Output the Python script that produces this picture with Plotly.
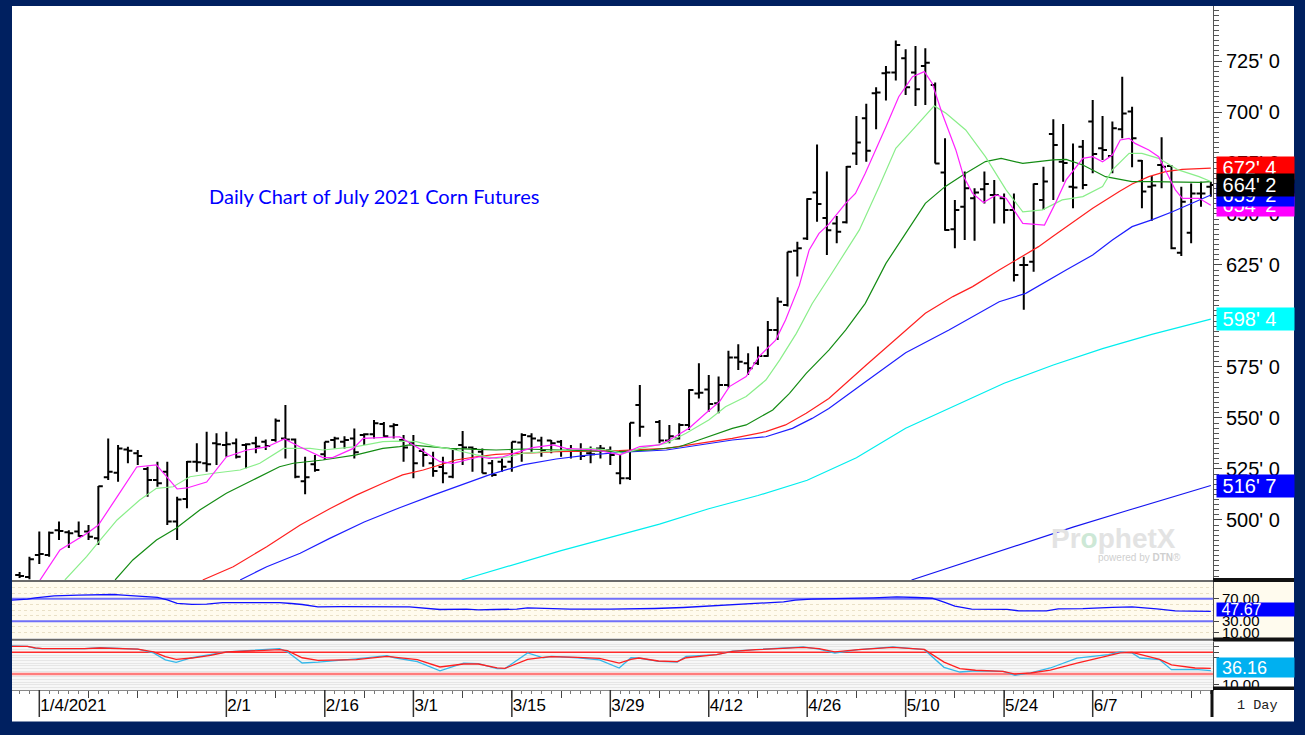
import pandas as pd
import plotly.graph_objects as go

# ---------------- calendar (trading days, Good Friday slot kept empty) ----------------
HOLIDAYS = ["2021-01-01", "2021-01-18", "2021-02-15", "2021-05-31"]
dates = [d for d in pd.bdate_range("2020-12-30", "2021-06-23") if d.strftime("%Y-%m-%d") not in HOLIDAYS]
DAY0 = dates.index(pd.Timestamp("2021-01-04"))
bar_pos = [i - DAY0 for i in range(len(dates))]

# ---------------- OHLC (cents/bushel), one per trading day, None = no bar ----------------
opens = [473.0, 472.0, 482.8, 482.8, 495.0, 494.0, 494.3, 494.3, 491.0, 520.9,
         523.2, 534.6, 532.7, 525.0, 519.6, 523.7, 499.2, 510.3, 528.6, 527.8,
         537.6, 536.8, 537.6, 536.8, 537.6, 538.4, 539.2, 540.0, 539.5, 519.0,
         527.3, 532.2, 539.2, 538.4, 540.0, 541.7, 542.0, 547.0, 546.0, 539.2,
         537.6, 533.8, 527.8, 526.0, 521.2, 536.8, 535.5, 533.5, 527.8, 528.6,
         528.6, 538.0, 541.0, 539.0, 539.0, 538.4, 534.8, 534.0, 532.7, 535.0,
         534.3, 522.9, 520.4, 556.4, None, 548.0, 539.0, 540.0, 546.6, 562.0,
         564.0, 557.2, 566.2, 579.7, 576.8, 576.8, 580.4, 593.1, 605.4, 632.0,
         638.0, 660.5, 648.0, 645.4, 646.0, 679.7, 696.9, 709.2, 719.0, 719.3,
         726.3, 719.3, 722.6, 713.2, 670.3, 642.5, 653.6, 657.7, 662.1, 659.3,
         657.7, 652.0, 625.0, 626.6, 656.9, 689.2, 675.6, 663.4, 683.0, 695.3,
         682.2, 678.4, 691.5, 700.2, 676.1, 663.4, 674.0, 673.5, 631.0, 640.8,
         660.1, 663.4]
highs = [474.5, 482.0, 494.3, 494.3, 499.2, 495.0, 499.2, 497.5, 516.7, 540.0,
         536.8, 535.9, 534.3, 526.1, 528.6, 528.6, 511.4, 528.9, 537.6, 543.3,
         542.5, 543.3, 540.0, 537.6, 540.8, 539.5, 549.8, 556.4, 540.0, 531.0,
         531.9, 538.4, 540.8, 541.0, 544.9, 542.5, 549.0, 548.0, 547.4, 541.7,
         541.7, 535.1, 533.5, 531.0, 535.1, 543.6, 536.0, 535.1, 529.4, 530.2,
         538.4, 542.5, 542.5, 540.8, 539.2, 539.2, 536.8, 537.6, 536.0, 536.8,
         536.0, 531.9, 547.7, 566.2, None, 549.0, 546.6, 547.4, 564.1, 576.8,
         571.1, 570.3, 583.0, 586.1, 581.7, 585.0, 597.6, 609.2, 631.5, 636.4,
         657.7, 684.1, 670.8, 649.0, 673.5, 698.0, 704.0, 712.1, 722.6, 735.0,
         730.7, 732.4, 731.2, 714.4, 687.1, 656.9, 670.8, 662.6, 670.8, 666.7,
         660.1, 660.1, 629.1, 665.0, 673.2, 696.4, 694.1, 684.6, 686.3, 705.9,
         698.0, 695.3, 717.3, 702.6, 676.5, 668.6, 687.6, 674.0, 663.4, 665.0,
         665.8, 665.8]
lows = [471.5, 471.0, 478.4, 482.0, 490.2, 486.3, 491.8, 490.2, 487.7, 519.6,
        518.8, 527.8, 527.0, 511.4, 516.3, 497.5, 490.2, 505.7, 523.7, 523.7,
        527.0, 531.0, 530.2, 525.3, 532.7, 534.3, 538.4, 530.2, 520.4, 512.6,
        523.7, 529.4, 535.1, 535.0, 530.2, 536.8, 540.0, 540.8, 540.0, 528.6,
        520.4, 526.1, 521.2, 518.0, 520.4, 527.0, 523.7, 522.9, 521.2, 523.7,
        523.7, 528.6, 533.5, 531.0, 532.7, 531.0, 530.2, 529.4, 527.8, 530.2,
        527.0, 517.5, 519.6, 540.8, None, 537.6, 537.6, 539.5, 544.1, 559.6,
        553.1, 552.3, 565.0, 573.5, 571.1, 576.0, 580.0, 588.2, 604.6, 619.3,
        637.3, 646.2, 629.9, 635.6, 645.4, 674.0, 675.6, 691.5, 705.6, 715.4,
        708.3, 703.0, 703.4, 674.8, 641.8, 633.2, 637.3, 636.9, 655.2, 645.4,
        645.4, 616.9, 603.0, 621.7, 652.0, 656.9, 665.8, 652.8, 662.1, 670.0,
        676.5, 670.0, 687.1, 672.9, 652.8, 646.7, 662.6, 632.7, 629.4, 635.6,
        653.6, 658.5]
closes = [472.5, 480.7, 483.3, 493.7, 494.6, 493.5, 492.2, 491.8, 516.5, 523.7,
          535.1, 534.0, 531.4, 519.6, 518.0, 499.2, 510.1, 528.6, 528.3, 527.3,
          537.1, 537.1, 531.0, 537.1, 536.0, 536.3, 548.7, 539.5, 521.2, 521.0,
          524.5, 538.4, 540.0, 539.2, 533.2, 542.0, 547.4, 541.0, 546.6, 535.5,
          527.8, 531.9, 524.0, 522.9, 534.8, 535.5, 534.8, 522.9, 522.0, 526.1,
          538.4, 541.7, 540.0, 534.3, 537.6, 533.8, 534.0, 531.4, 532.2, 535.0,
          531.9, 520.4, 547.7, 545.7, None, 539.0, 541.0, 546.6, 563.7, 562.4,
          556.9, 566.2, 579.7, 577.6, 574.4, 580.4, 593.1, 607.0, 631.5, 633.2,
          657.4, 654.9, 642.0, 641.3, 673.2, 685.0, 681.0, 709.5, 719.3, 732.8,
          712.1, 711.1, 724.2, 674.8, 642.2, 652.0, 662.6, 660.5, 664.7, 659.3,
          652.0, 620.1, 625.0, 664.7, 665.9, 683.8, 675.0, 663.0, 664.2, 679.4,
          681.4, 692.0, 699.3, 687.1, 661.0, 664.0, 673.2, 633.2, 656.0, 660.1,
          660.1, 664.25]

# ---------------- moving averages (day position, value) ----------------
mag_pos = [0.0, 2.1, 4.9, 6, 7.9, 9.9, 11.9, 13, 14, 15, 17, 19, 21.1, 23.1, 24.9, 26.5, 28.8, 29.8,
           31.9, 32.9, 35.6, 36.6, 38, 39.3, 40.7, 42, 43.4, 44.7, 45.7, 47.1, 48.8, 50.1, 52.2, 53.5,
           56.6, 59, 61, 63, 64, 66, 67.7, 69.1, 70.1, 71.8, 73.1, 74.8, 75.8, 77.2, 78.2, 79.2, 80.2,
           81.9, 82.9, 83.9, 86, 87.3, 88.7, 89.9, 90.7, 91.7, 93.1, 93.9, 94.8, 95.9, 97.2, 98.2,
           99.9, 102.1, 103.2, 104.3, 106, 107, 108, 109, 109.8, 110.7, 111.3, 112.7, 113.7, 114.4,
           115.4, 116.1, 117.8, 119]
mag_val = [470.0, 485.3, 493.6, 497.5, 511.3, 526.0, 527.0, 520.6, 515.2, 515.7, 518.6, 530.9, 534.3,
           535.8, 539.7, 535.8, 530.6, 530.6, 535.1, 540.0, 540.8, 540.8, 536.8, 532.7, 528.6, 527.8,
           529.4, 531.0, 530.2, 531.0, 533.5, 535.5, 536.8, 535.1, 534.3, 531.9, 536.0, 536.8, 539.2,
           545.0, 552.3, 558.0, 565.4, 570.3, 580.1, 588.2, 598.0, 615.0, 632.4, 640.5, 645.0, 655.2,
           660.1, 670.0, 692.8, 707.5, 717.3, 719.8, 714.0, 699.4, 681.4, 668.3, 660.1, 655.6, 659.3,
           657.7, 645.4, 644.6, 655.2, 666.7, 677.3, 678.1, 675.6, 678.9, 686.3, 687.1, 684.6, 681.4,
           678.1, 671.6, 661.8, 657.7, 657.7, 654.25]

lgreen_pos = [2.6, 4.8, 6.2, 7.9, 10.2, 11.9, 13.6, 15.3, 17.7, 20.4, 22.4, 24.8, 26.5, 27.5, 28.8,
              32.2, 34.9, 36.6, 38.3, 40.3, 42.3, 44.4, 46.4, 47.8, 49.1, 51.2, 53.5, 55.9, 57.9,
              59.3, 61, 63.7, 65.7, 68, 69.7, 71.8, 73.8, 75.2, 76.9, 78.5, 80.6, 83.3, 85.3, 87,
              88.7, 90, 90.9, 92.1, 94.1, 96.1, 98.2, 99.9, 101.9, 103.9, 106, 108, 109, 110.7, 112,
              113.7, 115.7, 117.8, 119]
lgreen_val = [470.6, 482.0, 490.2, 500.0, 509.8, 515.5, 516.3, 521.2, 522.9, 524.5, 527.8, 535.1,
              535.1, 535.1, 534.3, 536.0, 538.4, 538.7, 538.4, 536.0, 534.3, 531.9, 530.2, 531.0,
              532.7, 533.5, 534.3, 535.1, 534.3, 532.5, 535.1, 537.6, 542.5, 549.0, 555.5, 560.5,
              568.6, 578.4, 591.5, 606.0, 621.7, 642.2, 663.4, 682.2, 691.2, 698.5, 703.0, 699.4,
              691.2, 678.1, 661.8, 651.1, 652.0, 656.9, 658.5, 663.4, 671.6, 679.7, 679.7, 677.3,
              671.6, 668.3, 665.9]

dgreen_pos = [7.7, 9.5, 11.9, 13.9, 16.3, 19, 21.7, 24.4, 25.8, 28.8, 32.2, 34.9, 36.6, 37.6, 39.6,
              41.7, 44.4, 46.4, 49.1, 52.5, 55.9, 58.9, 62, 65, 67, 70.4, 71.8, 74.5, 76.2, 77.9,
              80.2, 81.9, 83.9, 86, 88, 90, 92, 94.1, 96.1, 97.7, 99.9, 103, 104.3, 106, 108.3, 111,
              113, 117.8, 119]
dgreen_val = [470.6, 480.4, 490.2, 496.0, 504.9, 513.1, 519.6, 526.1, 527.8, 529.4, 531.9, 535.1,
              536.0, 536.8, 536.0, 535.1, 534.6, 534.3, 534.8, 534.3, 533.8, 533.5, 534.3, 535.9,
              539.2, 544.9, 546.6, 553.9, 562.1, 571.9, 583.3, 593.1, 606.2, 625.8, 640.5, 655.2,
              663.4, 670.0, 675.7, 677.3, 674.8, 676.5, 676.8, 674.0, 668.3, 665.9, 665.9, 665.5, 665.9]

red_pos = [16.6, 19.7, 23.1, 26.5, 29.5, 32.2, 34.9, 36.9, 39, 40.7, 42.3, 44.4, 46.4, 49.1, 52.5,
           55.9, 58.9, 63.7, 67, 70.4, 73.8, 75.8, 77.9, 80.2, 84, 88.3, 90, 92.8, 94.8, 97.5, 99.5,
           101.5, 102.9, 104.3, 107, 109.7, 111, 112.7, 114.4, 116.1, 119]
red_val = [470.6, 477.1, 486.9, 497.5, 505.5, 512.2, 518.0, 522.1, 524.5, 527.0, 529.4, 531.0, 532.2,
           532.7, 533.5, 533.8, 534.0, 535.1, 537.6, 540.0, 543.3, 546.6, 552.3, 559.6, 576.0, 594.0,
           601.3, 609.5, 614.4, 622.5, 628.3, 634.0, 638.9, 643.8, 652.8, 661.0, 664.7, 668.3, 670.8,
           671.9, 672.5]

blue_pos = [20.4, 23.1, 26.5, 29.5, 33, 36.6, 40, 42.3, 45.7, 49.1, 52.5, 55.9, 59.3, 63.7, 67, 70.4,
            73.8, 76.5, 78.5, 80.2, 84, 88, 92.4, 94.8, 97.5, 100.2, 102.2, 104.3, 107, 109, 111, 113,
            115.1, 117.1, 119]
blue_val = [470.6, 477.1, 483.7, 491.0, 499.0, 506.0, 512.2, 516.3, 522.1, 527.0, 529.9, 531.9, 533.2,
            534.3, 536.8, 539.2, 540.8, 544.9, 549.8, 554.7, 568.0, 582.0, 593.1, 599.7, 607.0, 611.1,
            616.8, 622.5, 629.9, 637.3, 643.8, 647.1, 651.1, 655.2, 659.3]

cyan_pos = [42.9, 48, 53, 58, 63, 68, 73, 78, 83, 88, 93, 98, 103, 108, 113, 119]
cyan_val = [470.6, 478.0, 485.0, 491.5, 498.0, 505.5, 512.0, 519.5, 530.5, 545.0, 556.0, 567.0, 576.0,
            584.0, 591.0, 598.5]

long_pos = [88.6, 92, 96, 100.5, 105, 110.7, 115, 119]
long_val = [470.6, 476.0, 482.3, 489.4, 496.5, 504.9, 511.0, 516.9]

# ---------------- RSI ----------------
rsi_pos = [-2.8, -1.2, -0.4, 1.5, 4, 7.5, 8.5, 10.4, 12, 13, 14, 15.5, 17, 18.6, 24.4, 25.6, 26.7,
           28.3, 30.6, 37.6, 39.2, 40.7, 43.4, 44.6, 46.2, 48.5, 49.6, 53.1, 53.9, 58, 60.5, 62.5,
           65.4, 68.4, 72, 73.6, 75.6, 76.8, 78.4, 84.7, 87.1, 89.1, 90.7, 91.9, 93, 94.7, 98.3,
           99.5, 102.3, 103.5, 106, 109, 111, 113.5, 115.4, 119]
rsi_val = [67.6, 69.3, 71.7, 75.3, 76.5, 77.7, 76.5, 74.5, 72.5, 68.0, 62.0, 60.0, 60.5, 63.0, 63.0,
           61.6, 59.8, 55.7, 56.2, 55.7, 52.7, 50.9, 51.5, 50.3, 50.9, 51.5, 53.9, 52.7, 51.5, 51.5,
           51.5, 52.7, 54.5, 57.4, 59.8, 61.6, 64.6, 67.6, 69.3, 71.7, 73.5, 72.3, 71.0, 64.0, 57.0,
           51.5, 51.0, 48.5, 48.5, 52.0, 52.5, 54.8, 55.5, 52.0, 48.3, 47.67]

# ---------------- Stochastics ----------------
stoch_pos = [-2.8, -1.2, -0.4, 0.3, 4.6, 6.2, 10, 11.6, 12.8, 13.9, 15.5, 17.4, 19, 24.4, 25.2, 26.7,
             28.3, 32.2, 35.3, 36.1, 38.4, 40.7, 43.1, 44.6, 46.5, 47.3, 49.6, 51.2, 52, 54.7, 56.9,
             58.9, 60.1, 60.9, 62.9, 64.8, 65.7, 68.8, 70.4, 72.8, 77.6, 79.2, 80.8, 83.2, 86.7, 89.9,
             91.9, 93.5, 95.1, 97.9, 99.1, 100.7, 102.7, 105.4, 108.6, 109.8, 111, 111.8, 113.8, 115,
             116.6, 117.4, 119]
stoch_d = [81.0, 81.0, 78.0, 76.7, 76.7, 78.0, 76.0, 71.0, 62.0, 57.0, 59.5, 64.5, 70.6, 74.8, 73.0,
           60.0, 55.0, 56.4, 62.7, 61.4, 56.4, 43.0, 48.5, 48.5, 41.5, 40.5, 57.0, 60.8, 62.0, 60.8,
           59.0, 50.0, 57.0, 59.5, 54.0, 53.0, 60.0, 65.6, 71.9, 74.8, 79.2, 77.0, 71.0, 74.8, 79.2,
           75.5, 52.0, 40.0, 37.0, 35.0, 30.0, 31.9, 37.0, 50.3, 63.0, 69.0, 70.0, 66.0, 57.0, 47.0,
           42.4, 41.1, 40.5]
stoch_k = [82.0, 81.0, 77.5, 76.7, 76.7, 78.5, 76.0, 69.0, 56.0, 51.6, 60.0, 65.5, 71.0, 76.7, 71.0,
           50.3, 52.0, 58.0, 64.0, 60.0, 53.0, 36.0, 50.0, 49.0, 39.8, 40.0, 68.8, 60.0, 62.7, 60.0,
           56.0, 41.0, 60.0, 59.5, 53.4, 52.2, 62.7, 65.6, 72.0, 75.0, 80.0, 76.0, 68.8, 75.0, 80.0,
           74.8, 42.4, 33.7, 36.0, 35.0, 27.6, 32.0, 41.1, 59.5, 65.6, 70.6, 68.8, 59.5, 56.4, 38.0,
           38.0, 38.5, 36.16]

# ---------------- axis labels ----------------
LABEL_DATES = ["2021-01-04", "2021-02-01", "2021-02-16", "2021-03-01", "2021-03-15", "2021-03-29",
               "2021-04-12", "2021-04-26", "2021-05-10", "2021-05-24", "2021-06-07"]
LABEL_TEXT = ["1/4/2021", "2/1", "2/16", "3/1", "3/15", "3/29", "4/12", "4/26", "5/10", "5/24", "6/7"]
PRICE_TICKS = [500, 525, 550, 575, 600, 625, 650, 675, 700, 725]


def grain(p):
    whole = int(p)
    eighth = int(round((p - whole) * 8))
    return f"{whole}' {eighth}"


# ---------------- geometry helpers (pixel -> paper) ----------------
W, H = 1305, 735
ML, MR, MT, MB = 12, 92, 6, 45
PW, PH = W - ML - MR, H - MT - MB
BOTTOM = H - MB


def px_x(px):
    return (px - ML) / PW


def px_y(py):
    return (BOTTOM - py) / PH


FONT = "Liberation Sans"
NAVY = "#002060"

fig = go.Figure()

# OHLC bars
ox = [p for p, o in zip(bar_pos, opens) if o is not None]
fig.add_trace(go.Ohlc(
    x=ox,
    open=[v for v in opens if v is not None], high=[v for v in highs if v is not None],
    low=[v for v in lows if v is not None], close=[v for v in closes if v is not None],
    increasing=dict(line=dict(color="black", width=2)),
    decreasing=dict(line=dict(color="black", width=2)),
    tickwidth=0.45, hoverinfo="none", showlegend=False, xaxis="x", yaxis="y"))

for pos, val, col in [(long_pos, long_val, "#1515F0"), (cyan_pos, cyan_val, "#00EEEE"),
                      (blue_pos, blue_val, "#1E1EFF"), (red_pos, red_val, "#FF2020"),
                      (dgreen_pos, dgreen_val, "#148C14"), (lgreen_pos, lgreen_val, "#8AEE8A"),
                      (mag_pos, mag_val, "#FF22FF")]:
    fig.add_trace(go.Scatter(x=pos, y=val, mode="lines", line=dict(color=col, width=1.2),
                             hoverinfo="none", showlegend=False, xaxis="x", yaxis="y"))

# RSI panel
xr = [-2.8, 119.3]
for lvl in (70, 30):
    fig.add_trace(go.Scatter(x=xr, y=[lvl, lvl], mode="lines", line=dict(color="#7070F8", width=2),
                             hoverinfo="none", showlegend=False, xaxis="x", yaxis="y2"))
fig.add_trace(go.Scatter(x=rsi_pos, y=rsi_val, mode="lines", line=dict(color="#1010FF", width=1.3),
                         hoverinfo="none", showlegend=False, xaxis="x", yaxis="y2"))

# Stochastic panel
fig.add_trace(go.Scatter(x=xr, y=[70, 70], mode="lines", line=dict(color="#FF2A2A", width=1.5),
                         hoverinfo="none", showlegend=False, xaxis="x", yaxis="y3"))
fig.add_trace(go.Scatter(x=xr, y=[30, 30], mode="lines", line=dict(color="#FF7C7C", width=2.5),
                         hoverinfo="none", showlegend=False, xaxis="x", yaxis="y3"))
fig.add_trace(go.Scatter(x=stoch_pos, y=stoch_k, mode="lines", line=dict(color="#35B8EA", width=1.3),
                         hoverinfo="none", showlegend=False, xaxis="x", yaxis="y3"))
fig.add_trace(go.Scatter(x=stoch_pos, y=stoch_d, mode="lines", line=dict(color="#FF2020", width=1.3),
                         hoverinfo="none", showlegend=False, xaxis="x", yaxis="y3"))

# x ticks: first trading day of every week, labelled every two weeks
week_pos, week_txt = [], []
for i in range(1, len(dates)):
    if dates[i].isocalendar()[1] != dates[i - 1].isocalendar()[1]:
        ds = dates[i].strftime("%Y-%m-%d")
        week_pos.append(bar_pos[i])
        week_txt.append(LABEL_TEXT[LABEL_DATES.index(ds)] if ds in LABEL_DATES else "")
label_pos = [bar_pos[dates.index(pd.Timestamp(d))] for d in LABEL_DATES]

shapes = [
    dict(type="rect", xref="paper", yref="paper", x0=0, x1=px_x(1294), y0=px_y(721.5), y1=px_y(6),
         fillcolor="white", line=dict(width=0), layer="below"),
    dict(type="rect", xref="paper", yref="paper", x0=0, x1=px_x(1294), y0=px_y(638), y1=px_y(582),
         fillcolor="#FFFBEE", line=dict(width=0), layer="below"),
    dict(type="rect", xref="paper", yref="paper", x0=0, x1=1, y0=0, y1=px_y(641.5),
         fillcolor="#F7F7F7", line=dict(width=0), layer="below"),
    dict(type="line", xref="paper", yref="paper", x0=0, x1=1, y0=px_y(581), y1=px_y(581),
         line=dict(color="#6A6A6A", width=2)),
    dict(type="line", xref="paper", yref="paper", x0=0, x1=1, y0=px_y(639.7), y1=px_y(639.7),
         line=dict(color="#6A6A6A", width=2)),
    dict(type="rect", xref="paper", yref="paper", x0=1, x1=px_x(1294), y0=px_y(582), y1=px_y(578),
         fillcolor="#111111", line=dict(width=0)),
    dict(type="rect", xref="paper", yref="paper", x0=1, x1=px_x(1294), y0=px_y(641.5), y1=px_y(637.5),
         fillcolor="#111111", line=dict(width=0)),
    dict(type="rect", xref="paper", yref="paper", x0=1, x1=px_x(1294), y0=px_y(690), y1=px_y(686.5),
         fillcolor="#111111", line=dict(width=0)),
    dict(type="rect", xref="paper", yref="paper", x0=px_x(1210.5), x1=px_x(1213.5), y0=px_y(717),
         y1=px_y(690), fillcolor="#111111", line=dict(width=0)),
]
for p in label_pos:
    shapes.append(dict(type="line", xref="x", yref="paper", x0=p, x1=p, y0=px_y(690), y1=px_y(717),
                       line=dict(color="#333333", width=1.5)))


def box(text, y, yref, bg, size=20, height=22, yshift=0):
    return dict(xref="paper", yref=yref, x=px_x(1215.7), y=y, xanchor="left", yanchor="middle",
                text="\u00a0" + text, showarrow=False, align="left", width=77, height=height,
                borderpad=0, bgcolor=bg, yshift=yshift,
                font=dict(family=FONT, size=size, color="white"))


annotations = [
    box(grain(598.5), 598.5, "y", "#00FFFF"),
    box(grain(516.875), 516.875, "y", "#0000FF"),
    box(grain(654.25), 654.25, "y", "#FF00FF"),
    box(grain(659.25), 659.25, "y", "#0000FF"),
    box(grain(672.5), 672.5, "y", "#FF0000"),
    box(grain(664.25), 664.25, "y", "#000000"),
    box("47.67", 47.67, "y2", "#0000FF", size=16, height=13, yshift=1.5),
    box("36.16", 36.16, "y3", "#00B0F0", size=18, height=19, yshift=3),
    dict(xref="paper", yref="paper", x=px_x(207), y=px_y(196), xanchor="left", yanchor="middle",
         text="Daily Chart of July 2021 Corn Futures", showarrow=False,
         font=dict(family="Lato", size=20, color="#0000FF")),
    dict(xref="paper", yref="paper", x=px_x(1235), y=px_y(705), xanchor="left", yanchor="middle",
         text="1 Day", showarrow=False, font=dict(family="Liberation Mono", size=13.5, color="#222")),
    dict(xref="paper", yref="paper", x=px_x(1113), y=px_y(538), xanchor="center", yanchor="middle",
         text="<b>Pr<span style='color:#CDE8D6'>o</span>phetX</b>", showarrow=False,
         font=dict(family=FONT, size=28, color="#E3E3E3")),
    dict(xref="paper", yref="paper", x=px_x(1183), y=px_y(557.5), xanchor="right", yanchor="middle",
         text="powered by <b>DTN</b>\u00ae", showarrow=False,
         font=dict(family=FONT, size=10, color="#CFCFCF")),
]

fig.update_layout(
    width=W, height=H, margin=dict(l=ML, r=MR, t=MT, b=MB),
    paper_bgcolor=NAVY, plot_bgcolor="rgba(0,0,0,0)",
    showlegend=False, hovermode=False,
    shapes=shapes, annotations=annotations,
    xaxis=dict(domain=[0, 1], range=[-2.773, 119.22], anchor="y3", showgrid=False, zeroline=False,
               showline=True, linecolor="#888888", ticks="outside", ticklen=7, tickcolor="#444",
               tickvals=week_pos, ticktext=week_txt, ticklabelposition="outside right",
               tickfont=dict(family=FONT, size=17, color="black"),
               minor=dict(dtick=1, tick0=0, ticks="outside", ticklen=3, tickcolor="#777"),
               rangeslider=dict(visible=False), fixedrange=True),
    yaxis=dict(domain=[px_y(580), 1], range=[470.58, 751.96], side="right", anchor="x",
               showgrid=False, zeroline=False, showline=True, linecolor="#555", linewidth=1,
               ticks="outside", ticklen=8, tickcolor="#444", tickvals=PRICE_TICKS,
               ticktext=[grain(t) for t in PRICE_TICKS],
               tickfont=dict(family=FONT, size=20, color="black"),
               minor=dict(dtick=2.5, tick0=0, ticks="outside", ticklen=5, tickcolor="#555"),
               fixedrange=True),
    yaxis2=dict(domain=[px_y(638), px_y(582)], range=[0, 100], side="right", anchor="x",
                showgrid=False, zeroline=False, showline=True, linecolor="#555",
                ticks="outside", ticklen=5, tickcolor="#444", tickvals=[10, 30, 70],
                ticktext=["10.00", "30.00", "70.00"],
                tickfont=dict(family=FONT, size=15, color="black"),
                minor=dict(dtick=10, tick0=0, showgrid=True, gridcolor="#E9E0C6", griddash="dot",
                           ticks=""),
                fixedrange=True),
    yaxis3=dict(domain=[0, px_y(641.5)], range=[0.55, 89.95], side="right", anchor="x",
                showgrid=False, zeroline=False, showline=True, linecolor="#555",
                ticks="outside", ticklen=5, tickcolor="#444", tickvals=[10, 60, 70, 80],
                ticktext=["10.00", "", "", ""],
                tickfont=dict(family=FONT, size=15, color="black"),
                minor=dict(dtick=5, tick0=0, showgrid=True, gridcolor="#E6E6E6", ticks=""),
                fixedrange=True),
)

fig.write_html("out.html")
